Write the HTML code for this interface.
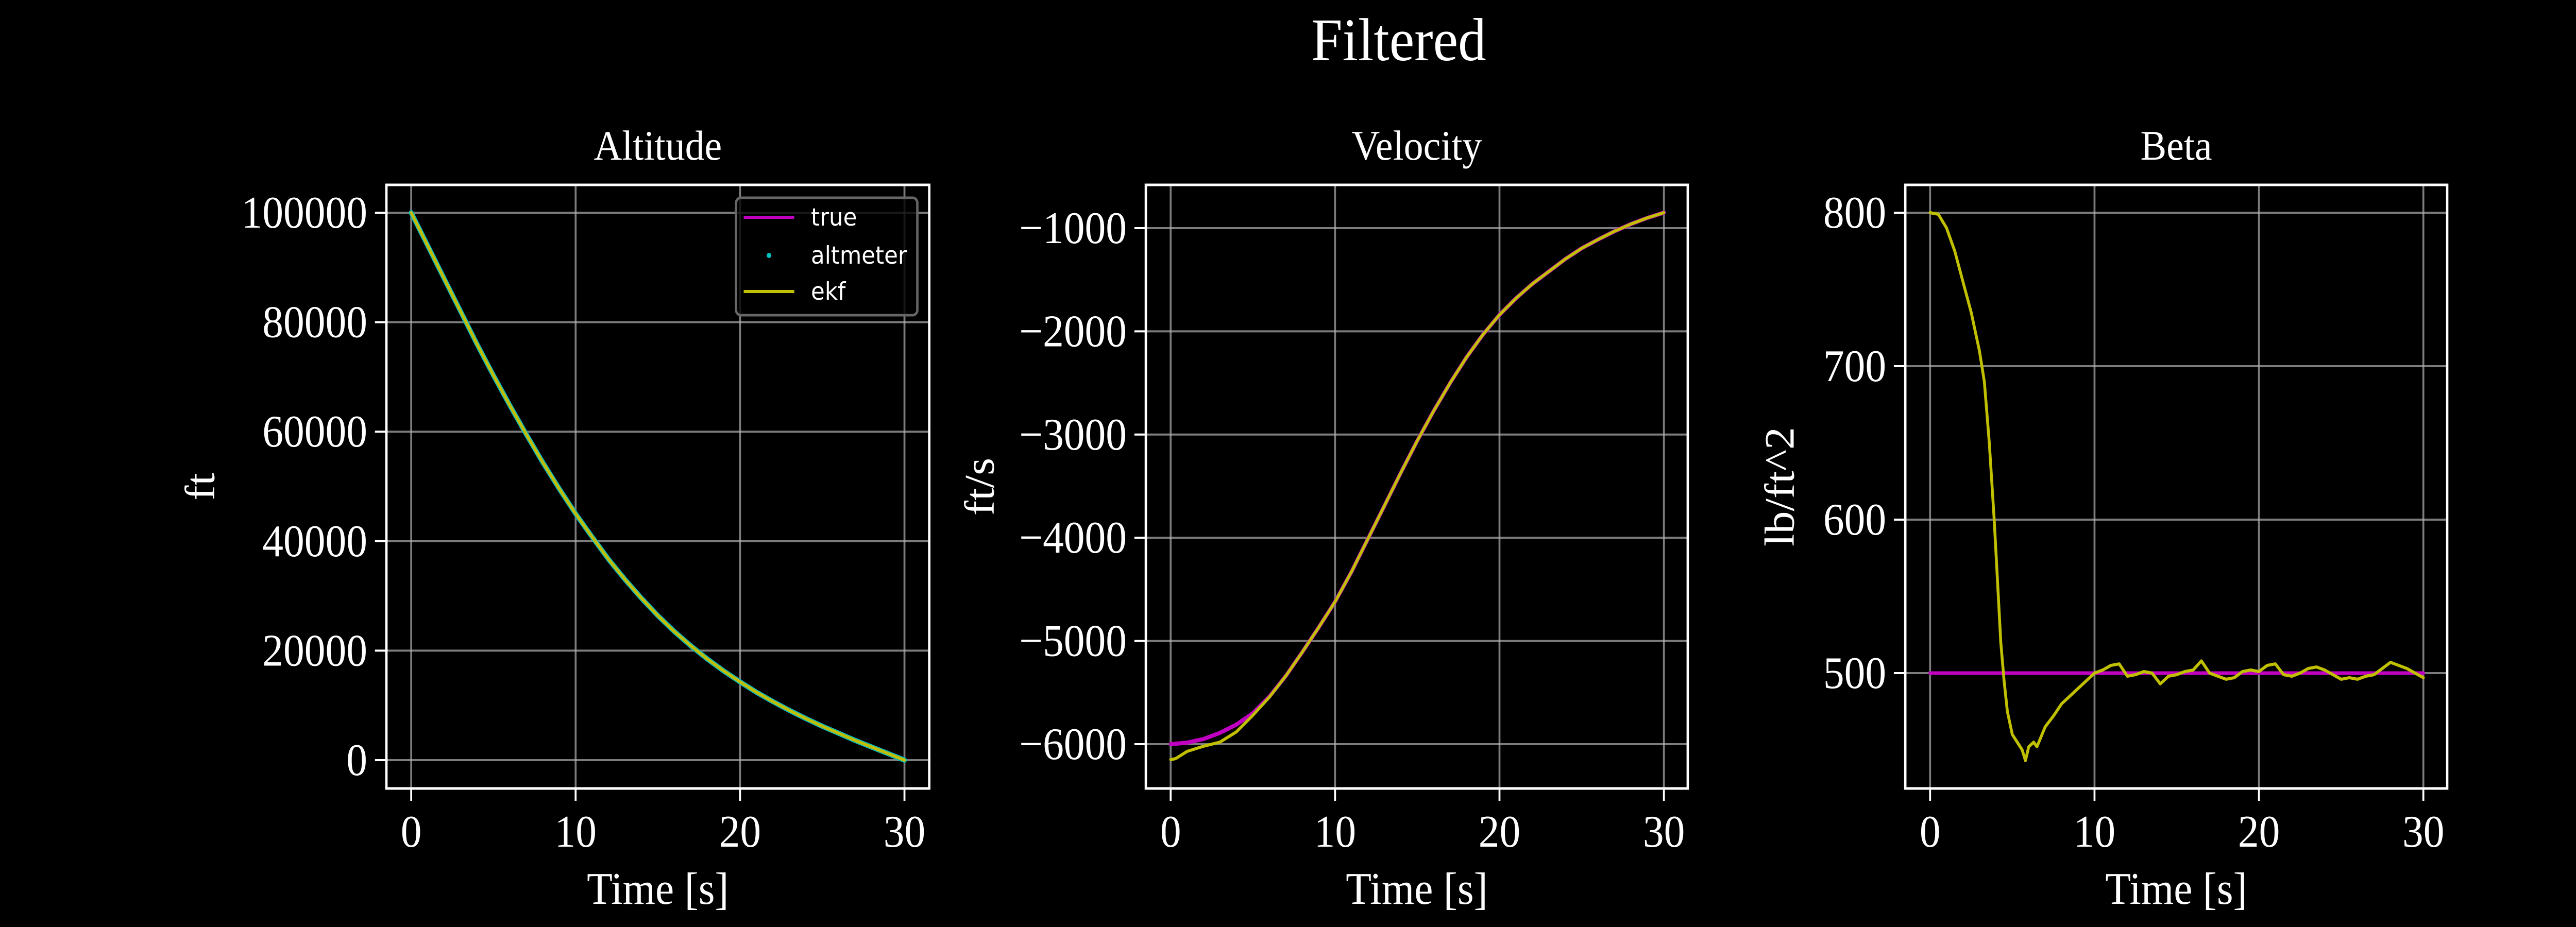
<!DOCTYPE html>
<html><head><meta charset="utf-8"><style>
html,body{margin:0;padding:0;background:#000;overflow:hidden;width:100%;height:100%;}
svg{display:block;position:fixed;left:0;top:0;width:100vw;height:100vh;}
text{font-family:"Liberation Serif",serif;fill:#fff;}
</style></head><body>
<svg id="fig" viewBox="0 0 5400 1800" preserveAspectRatio="none" xmlns="http://www.w3.org/2000/svg">
<rect width="5400" height="1800" fill="#000"/>
<text x="2932" y="117" font-size="118" text-anchor="middle">Filtered</text>
</svg>
<script>
// ---- data ----
const altTime = [0,1,2,3,4,5,6,7,8,9,10,11,12,13,14,15,16,17,18,19,20,21,22,23,24,25,26,27,28,29,30];
const altTrue = [100000,94000,88000,82000,76000,70300,64800,59500,54400,49600,45000,40800,36700,33000,29600,26400,23500,20900,18500,16300,14300,12400,10700,9100,7600,6200,4900,3600,2400,1200,0];
const velTime = [0,1,2,3,4,5,6,7,8,9,10,11,12,13,14,15,16,17,18,19,20,21,22,23,24,25,26,27,28,29,30];
const velTrue = [-6000,-5985,-5950,-5890,-5810,-5700,-5540,-5340,-5110,-4870,-4620,-4330,-4010,-3690,-3370,-3060,-2770,-2500,-2250,-2030,-1840,-1680,-1540,-1420,-1300,-1195,-1110,-1030,-960,-900,-850];
const velEkfTime = [0,0.3,1,2,3,4,5,6,7,8,9,10,11,12,13,14,15,16,17,18,19,20,21,22,23,24,25,26,27,28,29,30];
const velEkf = [-6150,-6140,-6070,-6020,-5980,-5880,-5720,-5545,-5340,-5110,-4870,-4620,-4330,-4010,-3690,-3370,-3060,-2770,-2500,-2250,-2030,-1840,-1680,-1540,-1420,-1300,-1195,-1110,-1030,-960,-900,-850];
const betaTime = [0,0.5,1,1.5,2,2.5,3,3.3,3.6,3.9,4.1,4.3,4.5,4.7,5,5.3,5.6,5.8,6,6.3,6.5,7,7.5,8,8.5,9,9.5,10,10.5,11,11.5,12,12.5,13,13.5,14,14.5,15,15.5,16,16.5,17,17.5,18,18.5,19,19.5,20,20.5,21,21.5,22,22.5,23,23.5,24,24.5,25,25.5,26,26.5,27,27.5,28,28.5,29,29.5,30];
const betaEkf = [800,799,790,775,755,735,710,690,650,600,560,520,495,475,460,455,450,443,452,455,452,465,472,480,485,490,495,500,502,505,506,498,499,501,500,493,498,499,501,502,508,500,498,496,497,501,502,501,505,506,499,498,500,503,504,502,499,496,497,496,498,499,503,507,505,503,500,497];
const betaTrueTime = [0,30];
const betaTrue = [500,500];
const xTicks = [0,10,20,30];
const altTicks = [0,20000,40000,60000,80000,100000];
const velTicks = [-6000,-5000,-4000,-3000,-2000,-1000];
const betaTicks = [500,600,700,800];

const NS = "http://www.w3.org/2000/svg";
const svg = document.getElementById('fig');
function mk(tag, attrs, parent){
  const e = document.createElementNS(NS, tag);
  for (const k in attrs) e.setAttribute(k, attrs[k]);
  (parent||svg).appendChild(e);
  return e;
}
function panel(cfg){
  const g = mk('g', {});
  
  
  const L=cfg.left, R=cfg.right, T=359, B=1531;
  const x0px=cfg.left+52, x30px=cfg.left+1086;
  const xs = t => x0px + (t-0)/30*(x30px-x0px);
  const ys = v => cfg.yPx0 + (v-cfg.yV0)/(cfg.yV1-cfg.yV0)*(cfg.yPx1-cfg.yPx0);
  for (const t of xTicks){
    const l = mk('line',{x1:xs(t),x2:xs(t),y1:T,y2:B,stroke:'#b0b0b0','stroke-opacity':0.7,'stroke-width':4},g);
    
    
    const tk = mk('line',{x1:xs(t),x2:xs(t),y1:B,y2:B+24,stroke:'#fff','stroke-width':4},g);
    
    
    const tx = mk('text',{x:xs(t),y:1644,'font-size':88,'text-anchor':'middle'},g);
    tx.textContent = String(t);
    
    
  }
  for (const v of cfg.yTicks){
    const y = ys(v);
    const l = mk('line',{x1:L,x2:R,y1:y,y2:y,stroke:'#b0b0b0','stroke-opacity':0.7,'stroke-width':4},g);
    
    
    const tk = mk('line',{x1:L-24,x2:L,y1:y,y2:y,stroke:'#fff','stroke-width':4},g);
    
    
    const tx = mk('text',{x:L-40,y:y+29,'font-size':88,'text-anchor':'end'},g);
    tx.textContent = v<0 ? '\u2212'+Math.abs(v) : String(v);
    
    
  }
  for (const s of cfg.series){
    const pts = s.t.map((t,i)=>xs(t).toFixed(1)+','+ys(s.v[i]).toFixed(1)).join(' ');
    const p = mk('polyline',{points:pts,fill:'none',stroke:s.color,'stroke-width':s.w,'stroke-linejoin':'round','stroke-linecap':'round'},g);
    
    
  }
  const fr = mk('rect',{x:L,y:T,width:R-L,height:B-T,fill:'none',stroke:'#fff','stroke-width':5},g);
  
  
  const ti = mk('text',{x:(L+R)/2,y:310,'font-size':82,'text-anchor':'middle'},g);
  ti.textContent = cfg.title;
  
  
  const xl = mk('text',{x:(L+R)/2,y:1755,'font-size':88,'text-anchor':'middle'},g);
  xl.textContent = 'Time [s]';
  
  
  const yl = mk('text',{x:0,y:0,'font-size':88,'text-anchor':'middle',transform:'translate('+(cfg.ylx+28)+','+((T+B)/2)+') rotate(-90)'},g);
  yl.textContent = cfg.ylabel;
  
  
  return g;
}
panel({name:'altitude',title:'Altitude',ylabel:'ft',left:810,right:1948,yPx0:1476,yV0:0,yPx1:413,yV1:100000,yTicks:altTicks,ylx:421,
  series:[{name:'altimeter-series',t:altTime,v:altTrue,color:'#00c0c0',w:10},
          {name:'true-altitude-line',t:altTime,v:altTrue,color:'#c000c0',w:6},
          {name:'ekf-altitude-line',t:altTime,v:altTrue,color:'#c0c000',w:6}]});
panel({name:'velocity',title:'Velocity',ylabel:'ft/s',left:2402,right:3538,yPx0:1445,yV0:-6000,yPx1:443,yV1:-1000,yTicks:velTicks,ylx:2055,
  series:[{name:'true-velocity-line',t:velTime,v:velTrue,color:'#c000c0',w:8},
          {name:'ekf-velocity-line',t:velEkfTime,v:velEkf,color:'#c0c000',w:6}]});
panel({name:'beta',title:'Beta',ylabel:'lb/ft^2',left:3994,right:5130,yPx0:1307,yV0:500,yPx1:413,yV1:800,yTicks:betaTicks,ylx:3732,
  series:[{name:'true-beta-line',t:betaTrueTime,v:betaTrue,color:'#c000c0',w:7},
          {name:'ekf-beta-line',t:betaTime,v:betaEkf,color:'#c0c000',w:6}]});

const lg = mk('g',{});


const lb = mk('rect',{x:1543,y:384,width:380,height:228,rx:10,fill:'#000','fill-opacity':0.8,stroke:'#666','stroke-width':5},lg);


const entries = [['true','#c000c0',422,'line'],['altmeter','#00c0c0',496,'dot'],['ekf','#c0c000',566,'line']];
for (const [lab,col,y,kind] of entries){
  if (kind==='line'){
    const h = mk('line',{x1:1559,x2:1665,y1:y,y2:y,stroke:col,'stroke-width':6},lg);
    
    
  } else {
    const h = mk('circle',{cx:1612,cy:y,r:5,fill:col},lg);
    
    
  }
  const t = mk('text',{x:1700,y:y+16,'font-size':47,style:'font-family:"DejaVu Sans",sans-serif'},lg);
  t.textContent = lab;
  
  
}
</script>
</body></html>
